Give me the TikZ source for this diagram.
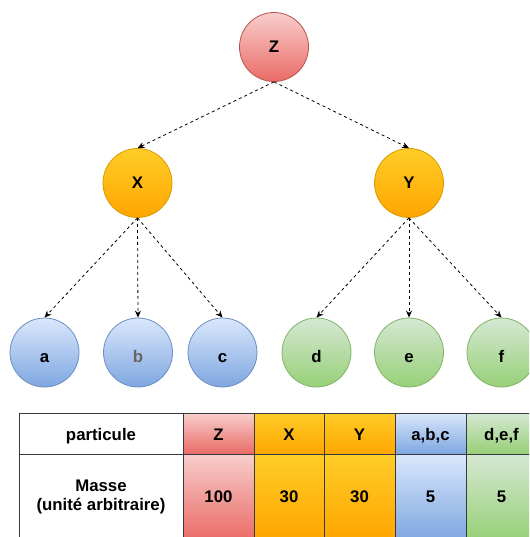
\documentclass[tikz,border=0pt]{standalone}
\usepackage{fontspec}
\setmainfont{Liberation Sans}
\usepackage{tikz}
\usetikzlibrary{arrows.meta}

\definecolor{PartRed}{HTML}{F8CECC}
\definecolor{PartRedDark}{HTML}{EA6B66}
\definecolor{PartRedLine}{HTML}{B85450}
\definecolor{PartOrange}{HTML}{FFCD28}
\definecolor{PartOrangeDark}{HTML}{FFA500}
\definecolor{PartOrangeLine}{HTML}{D79B00}
\definecolor{PartBlue}{HTML}{DAE8FC}
\definecolor{PartBlueDark}{HTML}{7EA6E0}
\definecolor{PartBlueLine}{HTML}{6C8EBF}
\definecolor{PartGreen}{HTML}{D5E8D4}
\definecolor{PartGreenDark}{HTML}{97D077}
\definecolor{PartGreenLine}{HTML}{82B366}
\definecolor{PartGrid}{HTML}{36393D}

\tikzset{
  every node/.style = {font=\fontsize{16.8}{19.5}\selectfont\bfseries, text=black},
  particle/.style = {
    circle,
    minimum size=69pt,
    inner sep=0pt,
    line width=0.8pt,
    text height=12pt,
    text depth=0pt
  },
  particle low/.style = {text height=20pt},
  particle red/.style = {particle, draw=PartRedLine, top color=PartRed, bottom color=PartRedDark},
  particle orange/.style = {particle, draw=PartOrangeLine, top color=PartOrange, bottom color=PartOrangeDark},
  particle blue/.style = {particle, particle low, draw=PartBlueLine, top color=PartBlue, bottom color=PartBlueDark},
  particle green/.style = {particle, particle low, draw=PartGreenLine, top color=PartGreen, bottom color=PartGreenDark},
  decay/.style = {
    -{Stealth[length=7pt,width=6pt]},
    draw=black,
    line width=0.8pt,
    dash pattern=on 3pt off 3pt
  },
  cell/.style = {
    draw=PartGrid,
    line width=1pt,
    minimum width=71pt,
    inner sep=0pt,
    outer sep=0pt,
    align=center
  },
  cell head/.style = {cell, minimum height=41pt, text height=13pt, text depth=0pt},
  cell body/.style = {cell, minimum height=86pt},
  cell red/.style = {top color=PartRed, bottom color=PartRedDark},
  cell orange/.style = {top color=PartOrange, bottom color=PartOrangeDark},
  cell blue/.style = {top color=PartBlue, bottom color=PartBlueDark},
  cell green/.style = {top color=PartGreen, bottom color=PartGreenDark},
}

\begin{document}
\begin{tikzpicture}[x=1pt,y=-1pt]
  \clip (0,0) rectangle (529,537);

  % decay tree
  \node[particle red] (Z) at (274,47) {Z};
  \node[particle orange] (X) at (137.5,183) {X};
  \node[particle orange] (Y) at (409,183) {Y};

  \node[particle blue] (a) at (44.5,352.5) {a};
  \node[particle blue, text=black!60] (b) at (138,352.5) {b};
  \node[particle blue] (c) at (222.5,352.5) {c};
  \node[particle green] (d) at (316.5,352.5) {d};
  \node[particle green] (e) at (409,352.5) {e};
  \node[particle green] (f) at (501.5,352.5) {f};

  \draw[decay] (Z.south) -- (X.north);
  \draw[decay] (Z.south) -- (Y.north);
  \foreach \p in {a,b,c} {
    \draw[decay] (X.south) -- (\p.north);
  }
  \foreach \p in {d,e,f} {
    \draw[decay] (Y.south) -- (\p.north);
  }

  % mass table
  \node[cell head, minimum width=164pt, fill=white] (headname) at (101,433.5) {particule};
  \node[cell head, cell red] (headZ) at (218.5,433.5) {Z};
  \node[cell head, cell orange, minimum width=70pt] (headX) at (289,433.5) {X};
  \node[cell head, cell orange] (headY) at (359.5,433.5) {Y};
  \node[cell head, cell blue] (headabc) at (430.5,433.5) {a,b,c};
  \node[cell head, cell green] (headdef) at (501.5,433.5) {d,e,f};

  \node[cell body, minimum width=164pt, fill=white] (massname) at (101,497) {Masse\\(unité arbitraire)};
  \node[cell body, cell red] (massZ) at (218.5,497) {100};
  \node[cell body, cell orange, minimum width=70pt] (massX) at (289,497) {30};
  \node[cell body, cell orange] (massY) at (359.5,497) {30};
  \node[cell body, cell blue] (massabc) at (430.5,497) {5};
  \node[cell body, cell green] (massdef) at (501.5,497) {5};
\end{tikzpicture}
\end{document}
